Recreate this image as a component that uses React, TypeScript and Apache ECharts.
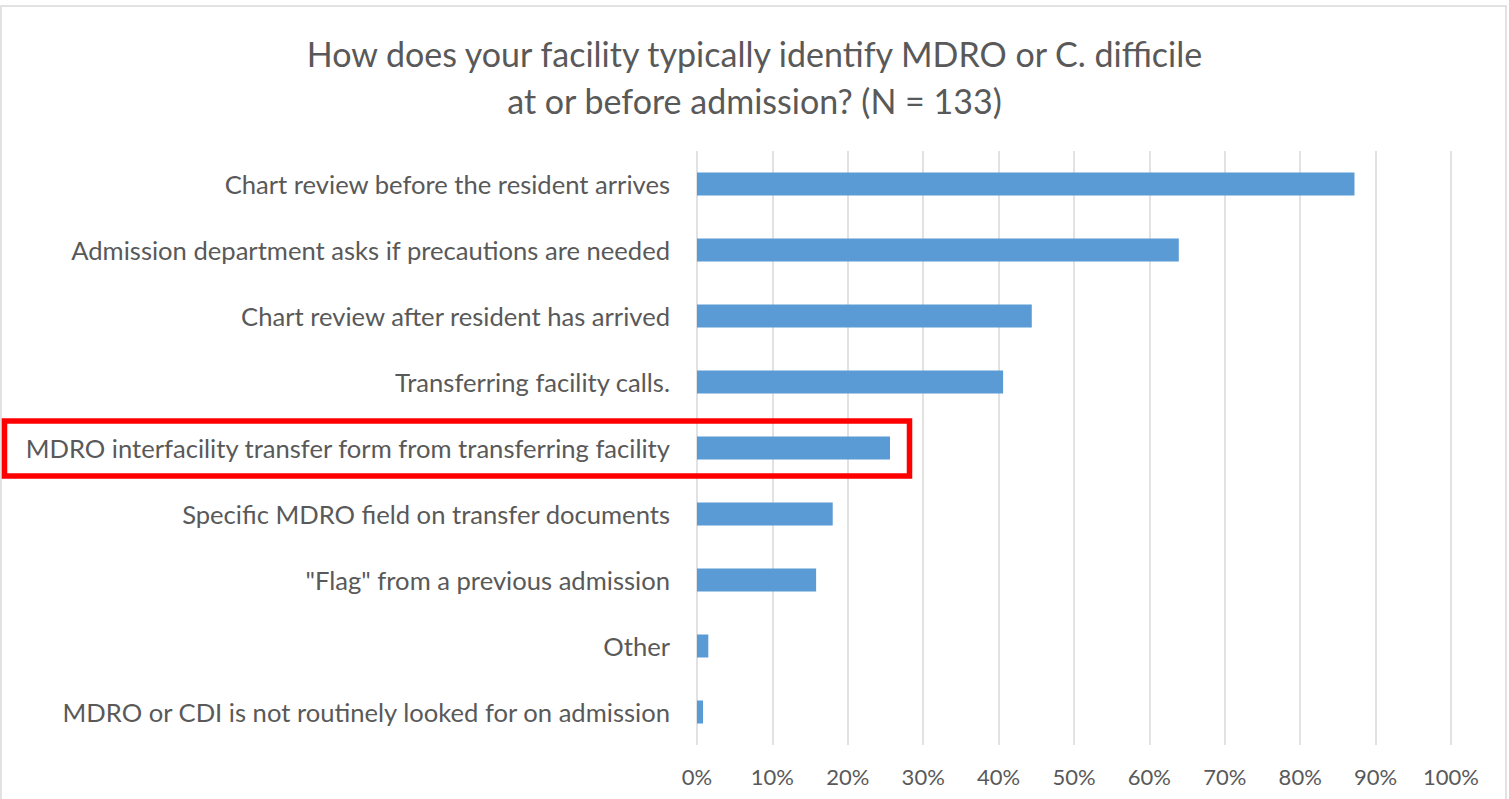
import React, { useEffect, useRef } from "react";
import * as echarts from "echarts";

const titleLines = [
  "How does your facility typically identify MDRO or C. difficile",
  "at or before admission? (N = 133)",
];

const categories = [
  "Chart review before the resident arrives",
  "Admission department asks if precautions are needed",
  "Chart review after resident has arrived",
  "Transferring facility calls.",
  "MDRO interfacility transfer form from transferring facility",
  "Specific MDRO field on transfer documents",
  "\"Flag\" from a previous admission",
  "Other",
  "MDRO or CDI is not routinely looked for on admission",
];

const percentValues = [87.2, 63.9, 44.4, 40.6, 25.6, 18.0, 15.8, 1.5, 0.8];

const FONT = "Lato, 'Noto Sans', sans-serif";
const TEXT = "#595959";

export default function App() {
  const ref = useRef<HTMLDivElement>(null);
  useEffect(() => {
    if (!ref.current) return;
    const chart = echarts.init(ref.current, null, { renderer: "svg" });
    chart.setOption({
      animation: false,
      backgroundColor: "#ffffff",
      title: {
        text: titleLines.join("\n"),
        left: "center",
        top: 30,
        padding: 0,
        textStyle: {
          fontFamily: FONT,
          fontSize: 34,
          fontWeight: "normal",
          color: TEXT,
          lineHeight: 47,
        },
      },
      grid: { left: 697, right: 58, top: 151, bottom: 54, containLabel: false },
      xAxis: {
        type: "value",
        min: 0,
        max: 100,
        interval: 10,
        axisLine: { show: false },
        axisTick: { show: false },
        axisLabel: {
          formatter: "{value}%",
          color: TEXT,
          fontFamily: FONT,
          fontSize: 22,
          margin: 20,
        },
        splitLine: { show: true, lineStyle: { color: "#d9d9d9", width: 1.5 } },
      },
      yAxis: {
        type: "category",
        data: categories,
        inverse: true,
        axisLine: { show: false },
        axisTick: { show: false },
        splitLine: { show: false },
        axisLabel: {
          color: TEXT,
          fontFamily: FONT,
          fontSize: 25.6,
          margin: 27,
        },
      },
      series: [
        {
          type: "bar",
          data: percentValues,
          barWidth: 23,
          itemStyle: { color: "#5b9bd5" },
        },
      ],
      graphic: [
        {
          type: "rect",
          shape: { x: 1, y: 6, width: 1505, height: 800 },
          style: { fill: "none", stroke: "#d9d9d9", lineWidth: 1.5 },
          silent: true,
        },
        {
          type: "rect",
          shape: { x: 4.5, y: 421, width: 905, height: 55 },
          style: { fill: "none", stroke: "#ff0000", lineWidth: 5.5 },
          silent: true,
          z: 100,
        },
      ],
    });
    return () => chart.dispose();
  }, []);
  return (
    <div
      ref={ref}
      style={{ position: "absolute", left: 0, top: 0, width: 1509, height: 799 }}
    />
  );
}
